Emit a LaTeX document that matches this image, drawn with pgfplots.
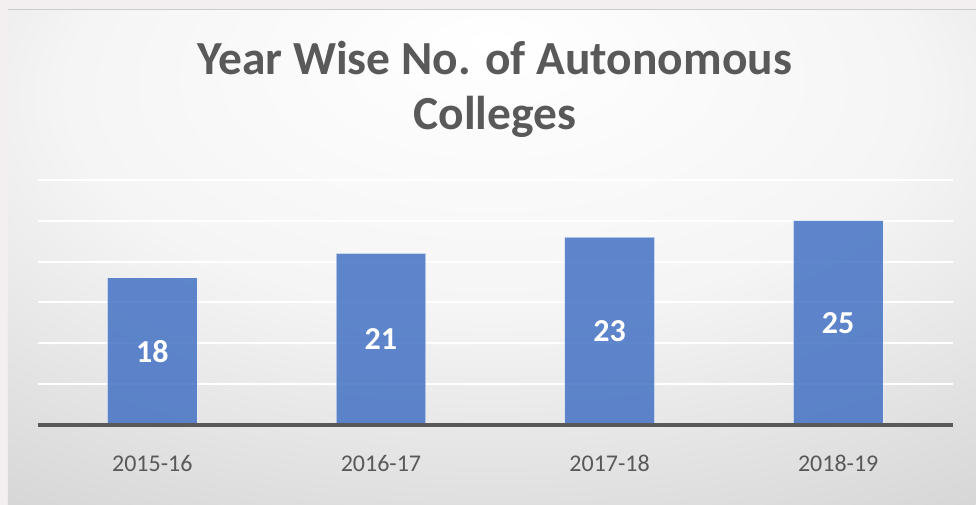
\documentclass[border=0pt]{standalone}
\usepackage{fontspec}
\setmainfont{Carlito}
\usepackage{pgfplots}
\pgfplotsset{compat=1.18}
\usepackage{pgfplotstable}
\definecolor{txt}{HTML}{595959}
\definecolor{barblue}{HTML}{4472C4}
\definecolor{outerbg}{HTML}{F3EFF0}
\pgfdeclareradialshading{chartbg}{\pgfpoint{0bp}{22bp}}{color(0bp)=(white); color(22bp)=(white!96!black); color(50bp)=(white!81!black); color(90bp)=(white!76!black)}
\pgfplotstableread{
x y
0 18
1 21
2 23
3 25
}\data
\begin{document}
\begin{tikzpicture}[x=1bp,y=1bp]
\fill[outerbg] (0,0) rectangle (976,505);
\shade[shading=chartbg] (8,0) rectangle (976,495);
\draw[white!80!black, line width=1bp] (8,495) -- (976,495);
\node[font=\fontsize{47.5bp}{55bp}\selectfont\bfseries, text=txt, anchor=base] at (495,430) {Year Wise No. of Autonomous};
\node[font=\fontsize{47.5bp}{55bp}\selectfont\bfseries, text=txt, anchor=base] at (495,375) {Colleges};
\begin{axis}[
  at={(38bp,80bp)}, anchor=south west,
  scale only axis, width=915bp, height=245bp,
  xmin=-0.5, xmax=3.5, ymin=0, ymax=30,
  axis line style={draw=none},
  major tick length=0pt,
  ytick={0,5,...,30},
  yticklabel style={opacity=0},
  ymajorgrids, grid style={white, line width=2bp},
  xtick={0,1,2,3},
  xticklabels={2015-16,2016-17,2017-18,2018-19},
  xticklabel style={font=\fontsize{24bp}{28bp}\selectfont, text=txt, anchor=base, yshift=-47bp},
  /pgf/number format/assume math mode=true,
  clip=false,
]
\addplot[ybar, bar width=0.393, fill=barblue, fill opacity=0.85, draw=white, draw opacity=0.5, line width=1bp] table[x=x,y=y] {\data};
\addplot[draw=none, mark=none, point meta=explicit, nodes near coords,
  every node near coord/.append style={anchor=center, text=white, text opacity=1, font=\fontsize{32bp}{36bp}\selectfont\bfseries}]
  table[x=x, y expr=\thisrow{y}/2, meta=y] {\data};
\draw[txt, line width=3.5bp] (axis cs:-0.5,0) -- (axis cs:3.5,0);
\end{axis}
\end{tikzpicture}
\end{document}
